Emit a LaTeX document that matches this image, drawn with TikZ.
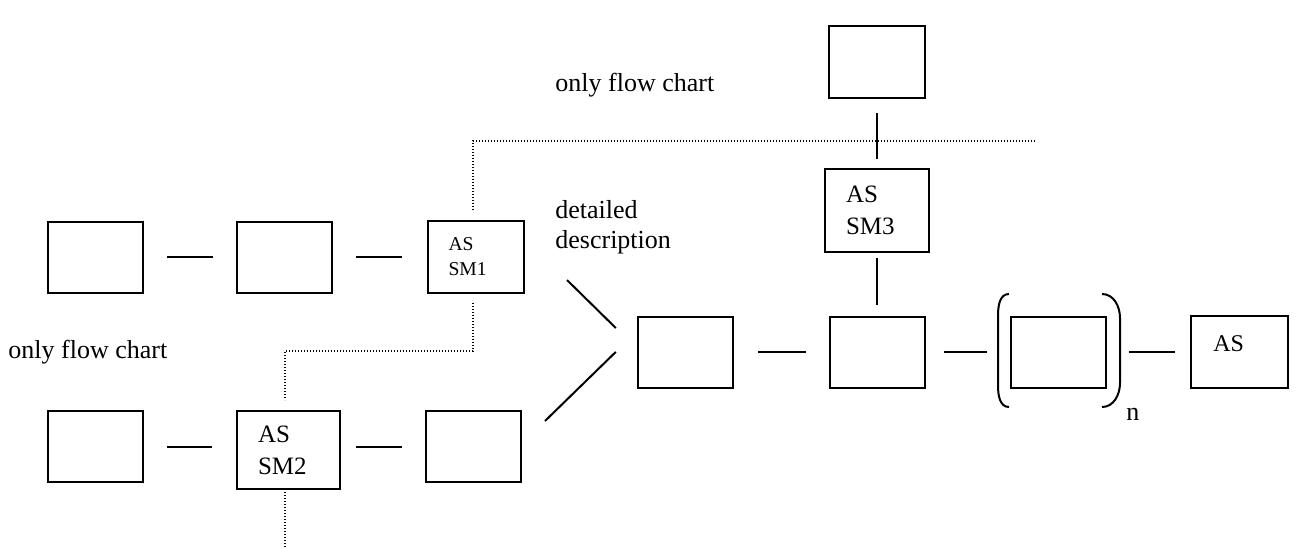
\documentclass[tikz,border=0pt]{standalone}
\usepackage{fontspec}
\setmainfont{Liberation Serif}
\begin{document}
\begin{tikzpicture}[x=0.5pt, y=-0.5pt,
    box/.style={draw, line width=1pt, minimum width=47.5pt, minimum height=35.5pt, inner sep=0pt},
    asbox/.style={box, align=left, inner xsep=10.5pt},
    link/.style={line width=1pt},
    dotline/.style={line width=0.6pt, dash pattern=on 0.6pt off 0.9pt},
    txt/.style={inner sep=0pt, anchor=base west, font=\fontsize{13}{15}\selectfont}]
    \useasboundingbox (0,0) rectangle (1314,548);
    % upper row
    \node[box] (a_1) at (95.5,257) {};
    \node[box] (a_2) at (284.5,257) {};
    \node[asbox, minimum width=48pt, minimum height=36pt, text width=27pt,
      font=\fontsize{9.8}{12.5}\selectfont] (sm_1) at (475.5,257) {AS\\SM1};
    % lower row
    \node[box] (b_1) at (95.5,446.5) {};
    \node[asbox, minimum width=51.5pt, minimum height=39pt, text width=30.5pt,
      font=\fontsize{12.5}{16}\selectfont] (sm_2) at (288.5,450) {AS\\SM2};
    \node[box] (b_3) at (473.5,446.5) {};
    % middle row
    \node[box] (c_1) at (685.5,352) {};
    \node[box] (c_2) at (877,352) {};
    \node[box] (c_3) at (1058,352) {};
    \node[box, minimum width=48.5pt, minimum height=36pt] (as) at (1239.5,352) {};
    \node[txt, font=\fontsize{12}{14}\selectfont] (as_t) at (1213,351) {AS};
    % branch upwards
    \node[asbox, minimum width=52pt, minimum height=41.5pt, text width=31pt,
      font=\fontsize{12.5}{16}\selectfont] (sm_3) at (877,210.5) {AS\\SM3};
    \node[box, minimum width=48pt, minimum height=36pt] (top) at (877,62) {};
    % texts
    \node[txt] (t_1) at (555,91) {only flow chart};
    \node[txt] (t_2) at (8,358) {only flow chart};
    \node[txt, align=left, anchor=north west] (t_3) at (555,200) {detailed\\description};
    \node[txt] (t_4) at (1126,420) {n};
    % connectors
    \draw[link, shorten <=11.5pt, shorten >=11.5pt] (a_1) -- (a_2);
    \draw[link, shorten <=11.5pt, shorten >=12.5pt] (a_2) -- (sm_1);
    \draw[link, shorten <=11.5pt, shorten >=12pt] (b_1.east) -- (b_1.east -| sm_2.west);
    \draw[link, shorten <=7.5pt, shorten >=11.5pt] (sm_2.east |- b_3.west) -- (b_3.west);
    \draw[link, shorten <=12pt, shorten >=11.5pt] (c_1) -- (c_2);
    \draw[link, shorten <=9pt, shorten >=11.5pt] (c_2) -- (c_3);
    \draw[link, shorten <=11pt, shorten >=7.5pt] (c_3) -- (as);
    \draw[link, shorten <=7pt, shorten >=4.5pt] (top) -- (sm_3);
    \draw[link, shorten <=2.5pt, shorten >=5.5pt] (sm_3) -- (c_2);
    % converging lines
    \coordinate (merge) at (628,340);
    \coordinate (d_1) at (567,280);
    \coordinate (d_2) at (545,421);
    \draw[link, shorten >=8.5pt] (d_1) -- (merge);
    \draw[link, shorten >=8.5pt] (d_2) -- (merge);
    % parentheses
    \draw[link] (1009,294) to[out=180, in=90] (998,316) -- (998,385) to[out=-90, in=180] (1009,407);
    \draw[link] (1102,294) to[out=0, in=90] (1120,318) -- (1120,383) to[out=-90, in=0] (1102,407);
    % dotted borders
    \draw[dotline] (473,210) -- (473,141) -- (1035,141);
    \draw[dotline] (473,303) -- (473,351) -- (285,351) -- (285,400);
    \draw[dotline] (285,492) -- (285,548);
  \end{tikzpicture}
\end{document}
